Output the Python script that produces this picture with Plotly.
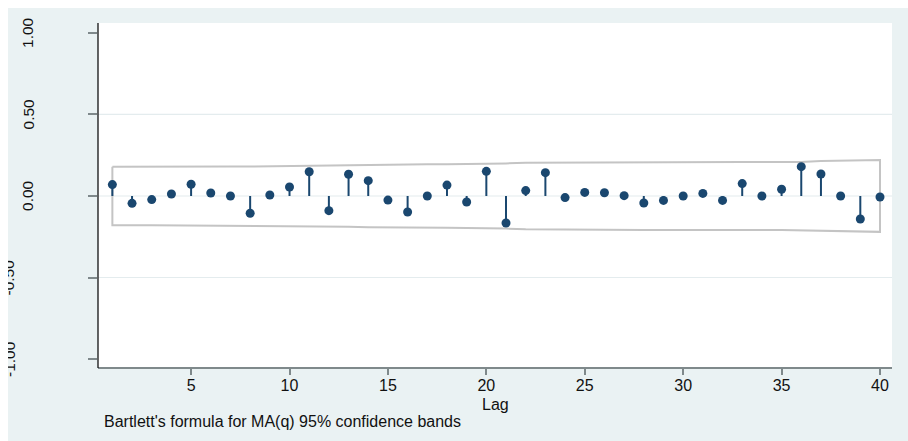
import plotly.graph_objects as go

# Autocorrelations by lag
lags = list(range(1, 41))
acf = [0.070, -0.045, -0.022, 0.012, 0.072, 0.018, 0.000, -0.106, 0.006, 0.055,
       0.149, -0.090, 0.133, 0.094, -0.025, -0.098, 0.000, 0.067, -0.037, 0.151,
       -0.166, 0.033, 0.143, -0.010, 0.022, 0.020, 0.002, -0.043, -0.027, 0.000,
       0.016, -0.027, 0.076, 0.000, 0.041, 0.180, 0.135, 0.000, -0.141, -0.006]

# Upper limit of the 95% confidence band (the lower limit mirrors it)
band_upper = [0.179, 0.180, 0.180, 0.180, 0.180, 0.181, 0.181, 0.181, 0.183, 0.183,
              0.184, 0.188, 0.189, 0.192, 0.193, 0.194, 0.195, 0.195, 0.196, 0.196,
              0.200, 0.204, 0.204, 0.207, 0.207, 0.208, 0.208, 0.208, 0.208, 0.208,
              0.208, 0.208, 0.208, 0.209, 0.209, 0.209, 0.214, 0.217, 0.217, 0.220]

y_ticks = [-1.0, -0.5, 0.0, 0.5, 1.0]
y_tick_text = ["-1.00", "-0.50", "0.00", "0.50", "1.00"]
x_ticks = [5, 10, 15, 20, 25, 30, 35, 40]
grid_vals = [-0.5, 0.0, 0.5]

NAVY = "#1a476f"
BG = "#eaf2f3"
FONT = "Liberation Sans, Arial, sans-serif"

# plot area in pixels
W, H = 908, 441
L, R, T, B = 98, 892, 23, 368


def px_x(p):
    return (p - L) / (R - L)


def px_y(p):
    return (B - p) / (B - T)


fig = go.Figure()

# confidence band outline
band_x = lags + lags[::-1] + [lags[0]]
band_y = band_upper + [-v for v in band_upper[::-1]] + [band_upper[0]]
fig.add_trace(go.Scatter(x=band_x, y=band_y, mode="lines",
                         line=dict(color="#c4c4c4", width=2),
                         hoverinfo="skip", showlegend=False))

# stems
stem_x, stem_y = [], []
for k, r in zip(lags, acf):
    stem_x += [k, k, None]
    stem_y += [0, r, None]
fig.add_trace(go.Scatter(x=stem_x, y=stem_y, mode="lines",
                         line=dict(color=NAVY, width=2),
                         hoverinfo="skip", showlegend=False))

# markers
fig.add_trace(go.Scatter(x=lags, y=acf, mode="markers",
                         marker=dict(color=NAVY, size=9, symbol="circle"),
                         showlegend=False))

shapes = []
# white strips at top and left edge of the page
shapes.append(dict(type="rect", xref="paper", yref="paper",
                   x0=px_x(0), x1=px_x(W), y0=px_y(0), y1=px_y(8),
                   fillcolor="white", line=dict(width=0), layer="below"))
shapes.append(dict(type="rect", xref="paper", yref="paper",
                   x0=px_x(0), x1=px_x(8), y0=px_y(0), y1=px_y(H),
                   fillcolor="white", line=dict(width=0), layer="below"))
# horizontal grid lines
for g in grid_vals:
    shapes.append(dict(type="line", xref="paper", yref="y",
                       x0=0, x1=1, y0=g, y1=g,
                       line=dict(color="#e4ecee", width=1.2), layer="below"))
# axis lines
shapes.append(dict(type="line", xref="paper", yref="paper",
                   x0=0, x1=1, y0=0, y1=0,
                   line=dict(color="#7f898b", width=2)))
shapes.append(dict(type="line", xref="paper", yref="paper",
                   x0=0, x1=0, y0=0, y1=1,
                   line=dict(color="#111111", width=1.3)))

annotations = []
# rotated y tick labels
for v, t in zip(y_ticks, y_tick_text):
    cx = 28 if v >= 0 else 9
    annotations.append(dict(x=px_x(cx), xref="paper", y=v, yref="y",
                            text=t, textangle=-90, showarrow=False,
                            xanchor="center", yanchor="middle",
                            font=dict(family=FONT, size=15.5, color="#111111")))
# cover for the left page edge
annotations.append(dict(x=px_x(0), xref="paper", y=px_y(8), yref="paper",
                        xanchor="left", yanchor="top", text=" ",
                        width=8, height=H - 8, bgcolor="white",
                        borderpad=0, borderwidth=0, showarrow=False))
# axis title and note
annotations.append(dict(x=0.5, xref="paper", y=px_y(404), yref="paper",
                        text="Lag", showarrow=False, xanchor="center",
                        yanchor="middle",
                        font=dict(family=FONT, size=16, color="#111111")))
annotations.append(dict(x=px_x(102), xref="paper", y=px_y(421), yref="paper",
                        text="Bartlett's formula for MA(q) 95% confidence bands",
                        showarrow=False, xanchor="left", yanchor="middle",
                        font=dict(family=FONT, size=16, color="#111111")))

fig.update_layout(
    width=W, height=H,
    margin=dict(l=L, r=W - R, t=T, b=H - B, pad=0),
    paper_bgcolor=BG, plot_bgcolor="white",
    shapes=shapes, annotations=annotations,
    xaxis=dict(range=[0.27, 40.61], tickvals=x_ticks, ticks="outside",
               ticklen=6, tickwidth=1.5, tickcolor="#7f898b",
               ticklabelstandoff=-3,
               showgrid=False, zeroline=False, showline=False,
               tickfont=dict(family=FONT, size=16, color="#111111")),
    yaxis=dict(range=[-1.055, 1.061], tickvals=y_ticks, ticks="outside",
               ticklen=9, tickwidth=1.5, tickcolor="#7f898b",
               showticklabels=False, showgrid=False, zeroline=False,
               showline=False),
)

fig.write_html("out.html")
